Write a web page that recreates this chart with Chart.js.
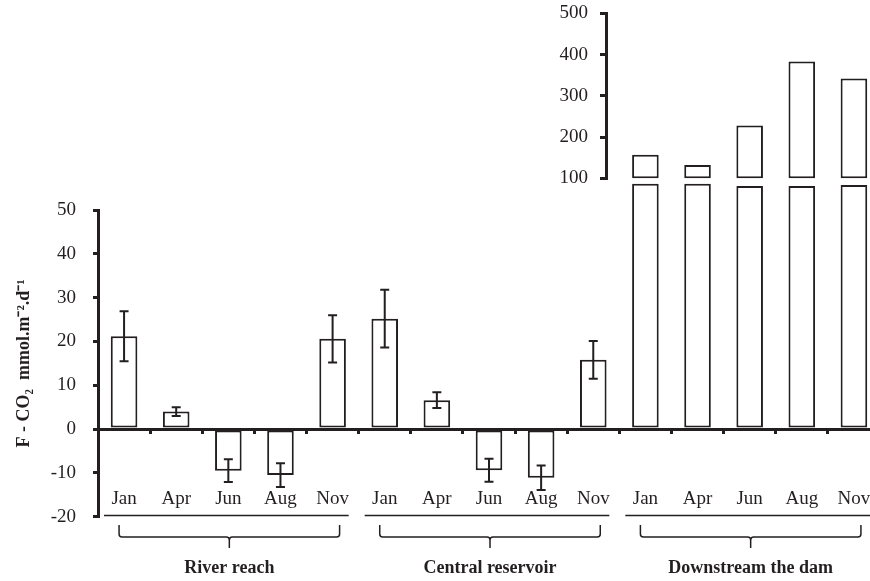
<!DOCTYPE html>
<html>
<head>
<meta charset="utf-8">
<script src="https://cdn.jsdelivr.net/npm/chart.js@4.4.1/dist/chart.umd.min.js"></script>
<style>
  html, body { margin: 0; padding: 0; background: #fff; overflow: hidden; }
</style>
</head>
<body>
<canvas id="myChart" width="880" height="581"></canvas>
<script>
const ctx = document.getElementById("myChart")

// values
const months = ['Jan', 'Apr', 'Jun', 'Aug', 'Nov']
const sites = ['River reach', 'Central reservoir', 'Downstream the dam']

const riverMean = [21.2, 4.0, -9.5, -10.5, 20.6]
const riverErr = [5.7, 1.0, 2.6, 2.7, 5.4]
const reservoirMean = [25.2, 6.6, -9.4, -11.1, 15.8]
const reservoirErr = [6.6, 1.8, 2.6, 2.8, 4.3]

// downstream bars are broken: lower stub on the left axis, top part on the inset axis
const downstreamStub = [56, 56, 55.5, 55.5, 55.7]
const downstreamFlux = [157, 132, 228, 383, 342]
const insetBase = 100

const leftMin = -20, leftMax = 50, leftStep = 10
const insetMin = 100, insetMax = 500, insetStep = 100

const ink = '#231f20'
const serif = "'Liberation Serif', 'Times New Roman', serif"

const labels = [...months, ...months, ...months]
const none = months.map(() => null)
const means = [...riverMean, ...reservoirMean, ...none]
const errs = [...riverErr, ...reservoirErr, ...none]
const stubs = [...none, ...none, ...downstreamStub]
const tops = [...none, ...none, ...downstreamFlux.map(v => [insetBase, v])]

const barStyle = {
    backgroundColor: '#fff',
    borderColor: ink,
    borderWidth: 2,
    borderSkipped: false,
    grouped: false,
    barPercentage: 0.51,
    categoryPercentage: 1,
    clip: false
}

// move the inset axis to the top right corner
const insetAxis = {
    id: 'insetAxis',
    afterLayout(chart) {
        const s = chart.scales.y2
        s.right = 606
        s.left = 540
        s.top = 13.3
        s.bottom = 178.3
        s.width = s.right - s.left
        s.height = s.bottom - s.top
        s.configure()
    }
}

const errorBars = {
    id: 'errorBars',
    afterDatasetsDraw(chart) {
        const c = chart.ctx
        const y = chart.scales.y
        const meta = chart.getDatasetMeta(0)
        c.save()
        c.strokeStyle = ink
        c.lineWidth = 2
        meta.data.forEach((bar, i) => {
            if (means[i] == null || errs[i] == null) return
            const x = bar.x
            const hi = y.getPixelForValue(means[i] + errs[i])
            const lo = y.getPixelForValue(means[i] - errs[i])
            c.beginPath()
            c.moveTo(x, hi); c.lineTo(x, lo)
            c.moveTo(x - 4.5, hi); c.lineTo(x + 4.5, hi)
            c.moveTo(x - 4.5, lo); c.lineTo(x + 4.5, lo)
            c.stroke()
        })
        c.restore()
    }
}

const groups = {
    id: 'groups',
    afterDraw(chart) {
        const c = chart.ctx
        const x = chart.scales.x
        const w = x.width / labels.length
        c.save()
        c.strokeStyle = ink
        c.fillStyle = ink
        c.lineWidth = 1.5
        sites.forEach((name, g) => {
            const first = x.getPixelForValue(g * months.length)
            const last = x.getPixelForValue(g * months.length + months.length - 1)
            // line under the month labels
            c.beginPath()
            c.moveTo(first - w / 2 + 6, 515.5)
            c.lineTo(last + w / 2 - 10, 515.5)
            c.stroke()
            // bracket
            const L = first - 5, R = last + 7, C = (L + R) / 2
            c.beginPath()
            c.moveTo(L, 525); c.lineTo(L, 534)
            c.quadraticCurveTo(L, 537, L + 3, 537)
            c.lineTo(C - 3, 537)
            c.quadraticCurveTo(C, 537, C, 540)
            c.lineTo(C, 548)
            c.moveTo(C, 540)
            c.quadraticCurveTo(C, 537, C + 3, 537)
            c.lineTo(R - 3, 537)
            c.quadraticCurveTo(R, 537, R, 534)
            c.lineTo(R, 525)
            c.stroke()
            c.font = 'bold 18px ' + serif
            c.textAlign = 'center'
            c.textBaseline = 'middle'
            c.fillText(name, C, 568)
        })
        c.restore()
    }
}

const data = {
    labels,
    datasets: [
        { ...barStyle, label: 'F-CO2', data: means },
        { ...barStyle, label: 'Downstream (lower part)', data: stubs },
        { ...barStyle, label: 'Downstream', data: tops, yAxisID: 'y2' }
    ]
}

const config = {
    type: 'bar',
    data: data,
    options: {
        responsive: false,
        animation: false,
        layout: { padding: { top: 210, bottom: 64.3, left: 0, right: 0 } },
        plugins: {
            legend: { display: false },
            tooltip: { enabled: false }
        },
        scales: {
            x: {
                type: 'category',
                position: { y: 0 },
                offset: true,
                afterFit: s => { s.paddingLeft = 0; s.paddingRight = 0 },
                grid: { drawOnChartArea: false, offset: true, tickLength: 3, lineWidth: 3, color: ink },
                border: { color: ink, width: 3 },
                ticks: {
                    color: ink, font: { family: serif, size: 19 },
                    padding: 56, autoSkip: false, maxRotation: 0
                }
            },
            y: {
                position: 'left',
                min: leftMin,
                max: leftMax,
                afterFit: s => { s.width = 98 },
                grid: { drawOnChartArea: false, tickLength: 5, lineWidth: 3, color: ink },
                border: { color: ink, width: 3 },
                ticks: { stepSize: leftStep, color: ink, font: { family: serif, size: 19 }, padding: 17 },
                title: {
                    display: true,
                    text: 'F - CO\u2082  mmol.m\u207B\u00B2.d\u207B\u00B9',
                    color: ink,
                    font: { family: serif, size: 18, weight: 'bold' },
                    padding: { top: 14, bottom: 0 }
                }
            },
            y2: {
                position: 'left',
                min: insetMin,
                max: insetMax,
                afterFit: s => { s.width = 0 },
                grid: { drawOnChartArea: false, tickLength: 6, lineWidth: 3, color: ink },
                border: { color: ink, width: 3 },
                ticks: { stepSize: insetStep, color: ink, font: { family: serif, size: 19 }, padding: 12 }
            }
        }
    },
    plugins: [insetAxis, errorBars, groups]
}

const myChart = new Chart(ctx, config)
</script>
</body>
</html>
